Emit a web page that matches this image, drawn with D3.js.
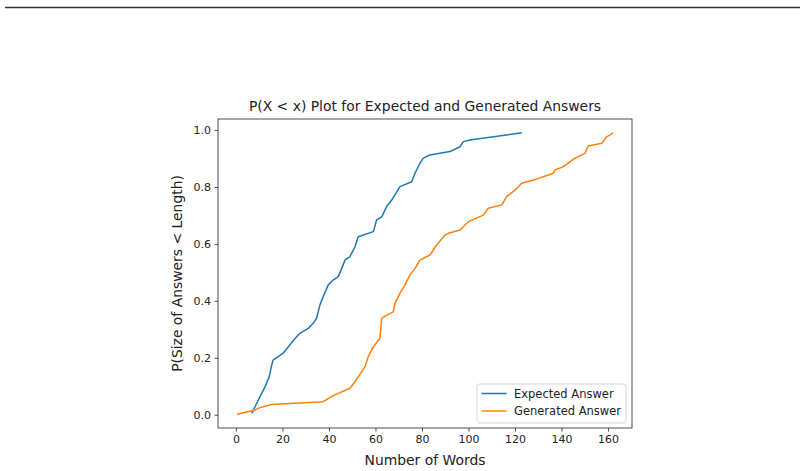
<!DOCTYPE html>
<html>
<head>
<meta charset="utf-8">
<script src="https://cdn.jsdelivr.net/npm/d3@7"></script>
<style>
  body { margin: 0; background: #fff; }
  svg { display: block; font-family: "DejaVu Sans", sans-serif; }
</style>
</head>
<body>
<svg id="gfx" width="804" height="471"></svg>
<script>
// CDF points: [words, probability]
const expectedAnswer = [
  [6.8, 0.005], [8.2, 0.028], [10.3, 0.063], [12.5, 0.098], [14.3, 0.133],
  [15.4, 0.175], [16.0, 0.192], [20.3, 0.216], [23.2, 0.245], [25.4, 0.268],
  [27.5, 0.286], [31.1, 0.303], [33.2, 0.321], [34.7, 0.339], [36.1, 0.385],
  [37.5, 0.414], [39.7, 0.456], [41.8, 0.473], [44.0, 0.485], [45.5, 0.514],
  [46.9, 0.543], [49.0, 0.555], [51.2, 0.590], [52.6, 0.625], [59.1, 0.643],
  [60.5, 0.684], [62.7, 0.695], [64.8, 0.731], [67.0, 0.754], [70.5, 0.801],
  [75.6, 0.818], [77.0, 0.848], [79.1, 0.883], [80.6, 0.901], [83.4, 0.912],
  [92.0, 0.924], [96.3, 0.941], [97.8, 0.959], [100.6, 0.965], [122.9, 0.990]
];
const generatedAnswer = [
  [0.5, 0.002], [8.2, 0.017], [10.3, 0.025], [15.4, 0.036], [37.5, 0.046],
  [41.8, 0.067], [49.0, 0.093], [51.2, 0.116], [52.6, 0.133], [55.5, 0.169],
  [56.9, 0.204], [59.1, 0.239], [61.9, 0.268], [62.7, 0.339], [67.7, 0.362],
  [68.4, 0.391], [70.5, 0.426], [72.7, 0.456], [74.8, 0.491], [77.0, 0.514],
  [79.1, 0.543], [83.4, 0.561], [86.3, 0.596], [89.9, 0.631], [91.3, 0.637],
  [96.3, 0.649], [99.9, 0.678], [106.4, 0.701], [108.5, 0.725], [114.3, 0.737],
  [116.4, 0.766], [120.0, 0.789], [122.9, 0.813], [127.9, 0.824], [136.5, 0.848],
  [137.2, 0.860], [140.8, 0.871], [145.8, 0.901], [150.1, 0.918], [151.5, 0.944],
  [157.3, 0.953], [159.4, 0.976], [162.3, 0.990]
];
const seriesNames = ["Expected Answer", "Generated Answer"];
const seriesColors = ["#1f77b4", "#ff7f0e"];
const xTicks = [0, 20, 40, 60, 80, 100, 120, 140, 160];
const yTicks = [0.0, 0.2, 0.4, 0.6, 0.8, 1.0];

const svg = d3.select("#gfx");
const box = { left: 218, right: 632, top: 119, bottom: 428 };

// page rule at the top
svg.append("line")
  .attr("x1", 5).attr("x2", 800).attr("y1", 7.5).attr("y2", 7.5)
  .attr("stroke", "#333").attr("stroke-width", 1.3);

const x = d3.scaleLinear().domain([-7.7, 170.3]).range([box.left, box.right]);
const y = d3.scaleLinear().domain([-0.0465, 1.0385]).range([box.bottom, box.top]);

const plot = svg.append("g");

// Curves
const line = d3.line().x(d => x(d[0])).y(d => y(d[1]));
[expectedAnswer, generatedAnswer].forEach((s, i) => {
  plot.append("path")
    .datum(s)
    .attr("d", line)
    .attr("fill", "none")
    .attr("stroke", seriesColors[i])
    .attr("stroke-width", 1.5)
    .attr("stroke-linejoin", "round");
});

// Axes
const xAxis = svg.append("g")
  .attr("transform", "translate(0," + box.bottom + ")")
  .call(d3.axisBottom(x).tickValues(xTicks).tickSize(3.5).tickPadding(3.5).tickFormat(d3.format("d")));
const yAxis = svg.append("g")
  .attr("transform", "translate(" + box.left + ",0)")
  .call(d3.axisLeft(y).tickValues(yTicks).tickSize(3.5).tickPadding(3.5).tickFormat(d3.format(".1f")));

[xAxis, yAxis].forEach(a => {
  a.select(".domain").remove();
  a.selectAll("line").attr("stroke", "#222").attr("stroke-width", 0.8);
  a.selectAll("text").attr("fill", "#222").attr("font-size", "11px")
    .attr("font-family", "DejaVu Sans, sans-serif");
});

// Frame
svg.append("rect")
  .attr("x", box.left).attr("y", box.top)
  .attr("width", box.right - box.left).attr("height", box.bottom - box.top)
  .attr("fill", "none").attr("stroke", "#222").attr("stroke-width", 0.8);

// Titles
svg.append("text")
  .attr("x", (box.left + box.right) / 2).attr("y", 111)
  .attr("text-anchor", "middle").attr("font-size", "13.9px").attr("fill", "#222")
  .text("P(X < x) Plot for Expected and Generated Answers");
svg.append("text")
  .attr("x", (box.left + box.right) / 2).attr("y", 465)
  .attr("text-anchor", "middle").attr("font-size", "13.9px").attr("fill", "#222")
  .text("Number of Words");
svg.append("text")
  .attr("transform", "translate(182," + ((box.top + box.bottom) / 2) + ") rotate(-90)")
  .attr("text-anchor", "middle").attr("font-size", "13.9px").attr("fill", "#222")
  .text("P(Size of Answers < Length)");

// Legend
const legend = svg.append("g").attr("transform", "translate(477,384)");
legend.append("rect")
  .attr("width", 149).attr("height", 39).attr("rx", 2.5)
  .attr("fill", "#fff").attr("fill-opacity", 0.8)
  .attr("stroke", "#ccc").attr("stroke-width", 0.8);
seriesNames.forEach((name, i) => {
  const g = legend.append("g").attr("transform", "translate(0," + (9.5 + i * 17.5) + ")");
  g.append("line").attr("x1", 4.5).attr("x2", 29.5)
    .attr("stroke", seriesColors[i]).attr("stroke-width", 1.5);
  g.append("text").attr("x", 37).attr("y", 4)
    .attr("font-size", "11.5px").attr("fill", "#222").text(name);
});
</script>
</body>
</html>
